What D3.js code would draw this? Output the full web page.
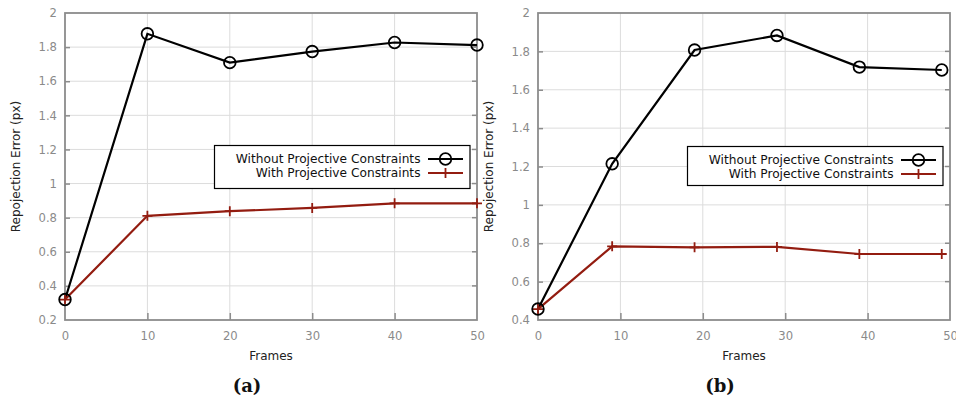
<!DOCTYPE html>
<html><head><meta charset="utf-8">
<script src="https://cdn.jsdelivr.net/npm/d3@7"></script>
<style>body{margin:0;background:#fff}svg{display:block}</style>
</head><body>
<svg id="c" width="956" height="401"></svg>
<script>
// Data
const framesA = [0, 10, 20, 30, 40, 50];
const withoutA = [0.32, 1.878, 1.709, 1.774, 1.827, 1.812];
const withA = [0.32, 0.811, 0.838, 0.857, 0.884, 0.884];
const framesB = [0, 9, 19, 29, 39, 49];
const withoutB = [0.457, 1.214, 1.807, 1.883, 1.718, 1.703];
const withB = [0.457, 0.784, 0.779, 0.781, 0.744, 0.744];
const xTicks = [0, 10, 20, 30, 40, 50];
const yTicksA = [0.2, 0.4, 0.6, 0.8, 1, 1.2, 1.4, 1.6, 1.8, 2];
const yTicksB = [0.4, 0.6, 0.8, 1, 1.2, 1.4, 1.6, 1.8, 2];
const seriesNames = ["Without Projective Constraints", "With Projective Constraints"];
const captions = ["(a)", "(b)"];

const svg = d3.select("#c");
const RED = "#931c10";
const AXIS = "#8c8c8c";
const font = "DejaVu Sans, sans-serif";

function panel(cfg) {
  const {left, right, top, bottom, yDomain, yTicks, frames, s1, s2, legend, caption} = cfg;
  const x = d3.scaleLinear().domain([0, 50]).range([left, right]);
  const y = d3.scaleLinear().domain(yDomain).range([bottom, top]);
  const g = svg.append("g");
  // grid
  g.selectAll(".gx").data(xTicks.slice(1, -1)).join("line")
    .attr("x1", d => x(d)).attr("x2", d => x(d)).attr("y1", top).attr("y2", bottom)
    .attr("stroke", "#dcdcdc").attr("stroke-width", 1);
  g.selectAll(".gy").data(yTicks.slice(1, -1)).join("line")
    .attr("y1", d => y(d)).attr("y2", d => y(d)).attr("x1", left).attr("x2", right)
    .attr("stroke", "#dcdcdc").attr("stroke-width", 1);
  // axes ticks using d3 axes
  const xa = d3.axisBottom(x).tickValues(xTicks).tickSize(-7).tickPadding(12).tickFormat(d3.format("d"));
  const xg = g.append("g").attr("transform", `translate(0,${bottom})`).call(xa);
  const ya = d3.axisLeft(y).tickValues(yTicks).tickSize(-5).tickPadding(8).tickFormat(d => String(+d.toFixed(1)));
  const yg = g.append("g").attr("transform", `translate(${left},0)`).call(ya);
  [xg, yg].forEach(a => {
    a.select(".domain").remove();
    a.selectAll(".tick line").attr("stroke", AXIS).attr("stroke-width", 1.5);
    a.selectAll(".tick text").attr("fill", "#8a8a8a").style("font-family", font).style("font-size", "11.6px");
  });
  yg.selectAll(".tick").filter(d => d === yTicks[0] || d === yTicks[yTicks.length-1]).select("line").remove();
  xg.selectAll(".tick").filter(d => d === 0 || d === 50).select("line").remove();
  // right mirror ticks
  g.selectAll(".ry").data(yTicks.slice(1, -1)).join("line")
    .attr("x1", right).attr("x2", right - 5).attr("y1", d => y(d)).attr("y2", d => y(d))
    .attr("stroke", AXIS).attr("stroke-width", 1.5);
  // frame
  g.append("rect").attr("x", left).attr("y", top).attr("width", right - left).attr("height", bottom - top)
    .attr("fill", "none").attr("stroke", AXIS).attr("stroke-width", 1.8);
  // titles
  g.append("text").attr("x", (left + right) / 2).attr("y", 360).attr("text-anchor", "middle")
    .style("font-family", font).style("font-size", "12px").attr("fill", "#222").text("Frames");
  g.append("text").attr("transform", `translate(${left - 45},${(top + bottom) / 2}) rotate(-90)`)
    .attr("text-anchor", "middle").style("font-family", font).style("font-size", "12px").attr("fill", "#222")
    .text("Repojection Error (px)");
  g.append("text").attr("x", (left + right) / 2 - 24).attr("y", 392).attr("text-anchor", "middle")
    .style("font-family", "DejaVu Serif, serif").style("font-weight", "bold").style("font-size", "18px")
    .attr("fill", "#111").text(caption);
  // lines
  const line = d3.line().x(d => x(d[0])).y(d => y(d[1]));
  const d1 = frames.map((f, i) => [f, s1[i]]);
  const d2 = frames.map((f, i) => [f, s2[i]]);
  g.append("path").datum(d1).attr("d", line).attr("fill", "none").attr("stroke", "#000").attr("stroke-width", 2.2);
  g.append("path").datum(d2).attr("d", line).attr("fill", "none").attr("stroke", RED).attr("stroke-width", 2.2);
  g.selectAll(".pl").data(d2).join("path")
    .attr("d", d => `M${x(d[0]) - 5},${y(d[1])}H${x(d[0]) + 5}M${x(d[0])},${y(d[1]) - 5}V${y(d[1]) + 5}`)
    .attr("stroke", RED).attr("stroke-width", 1.8).attr("fill", "none");
  g.selectAll(".ci").data(d1).join("circle")
    .attr("cx", d => x(d[0])).attr("cy", d => y(d[1])).attr("r", 5.8)
    .attr("fill", "none").attr("stroke", "#000").attr("stroke-width", 1.8);
  // legend
  const L = legend;
  g.append("rect").attr("x", L.x0).attr("y", L.y0).attr("width", L.x1 - L.x0).attr("height", L.y1 - L.y0)
    .attr("fill", "#fff").attr("stroke", "#000").attr("stroke-width", 1.2);
  const rows = [{name: seriesNames[0], c: "#000", m: "o"}, {name: seriesNames[1], c: RED, m: "+"}];
  rows.forEach((r, i) => {
    const cy = L.y0 + 13.5 + i * 14;
    g.append("text").attr("x", L.tx).attr("y", cy + 4.3).attr("text-anchor", "end")
      .style("font-family", font).style("font-size", "12.2px").attr("fill", "#111").text(r.name);
    g.append("line").attr("x1", L.sx0).attr("x2", L.sx1).attr("y1", cy).attr("y2", cy)
      .attr("stroke", r.c).attr("stroke-width", 2.2);
    const mx = (L.sx0 + L.sx1) / 2;
    if (r.m === "o") g.append("circle").attr("cx", mx).attr("cy", cy).attr("r", 5.8).attr("fill", "none").attr("stroke", r.c).attr("stroke-width", 1.8);
    else g.append("path").attr("d", `M${mx - 5},${cy}H${mx + 5}M${mx},${cy - 5}V${cy + 5}`).attr("stroke", r.c).attr("stroke-width", 1.8);
  });
}

panel({left: 65, right: 477, top: 13, bottom: 320, yDomain: [0.2, 2], yTicks: yTicksA,
  frames: framesA, s1: withoutA, s2: withA, caption: captions[0],
  legend: {x0: 214.5, x1: 470, y0: 145.5, y1: 188.5, tx: 420.5, sx0: 428, sx1: 463}});
panel({left: 538, right: 950, top: 13, bottom: 320, yDomain: [0.4, 2], yTicks: yTicksB,
  frames: framesB, s1: withoutB, s2: withB, caption: captions[1],
  legend: {x0: 687.5, x1: 943, y0: 146.5, y1: 185.5, tx: 893.5, sx0: 901, sx1: 936}});
</script>
</body></html>
